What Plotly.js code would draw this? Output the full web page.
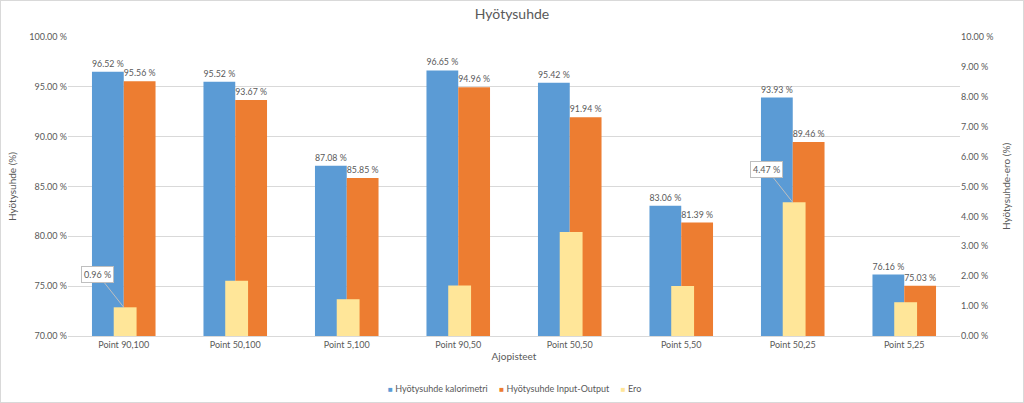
<!DOCTYPE html>
<html>
<head>
<meta charset="utf-8">
<script src="https://cdn.plot.ly/plotly-3.0.1.min.js"></script>
<style>
html,body{margin:0;padding:0;background:#fff;}
#wrap{width:1024px;height:403px;box-sizing:border-box;border:1px solid #d9d9d9;}
#chart{width:1022px;height:401px;}
</style>
</head>
<body>
<div id="wrap"><div id="chart"></div></div>
<script>
const categories = ["Point 90,100","Point 50,100","Point 5,100","Point 90,50","Point 50,50","Point 5,50","Point 50,25","Point 5,25"];
const kalorimetri = [96.52, 95.52, 87.08, 96.65, 95.42, 83.06, 93.93, 76.16];
const inputOutput = [95.56, 93.67, 85.85, 94.96, 91.94, 81.39, 89.46, 75.03];
const ero = [0.96, 1.85, 1.23, 1.69, 3.48, 1.67, 4.47, 1.13];
const eroLabelIdx = [0, 6];
const seriesNames = ['Hyötysuhde kalorimetri', 'Hyötysuhde Input-Output', 'Ero'];
const seriesColors = ['#5B9BD5', '#ED7D31', '#FFE699'];

const FONT = "Lato, 'Open Sans', 'Liberation Sans', sans-serif";
const GREY = "#595959";

const traces = [
  {type:'bar', name:seriesNames[0], x:categories, y:kalorimetri, showlegend:false,
   marker:{color:seriesColors[0]}, width:0.285, offset:-0.285,
   texttemplate:'%{y:.2f} %', textposition:'outside', cliponaxis:false,
   textfont:{size:9, color:GREY, family:FONT}, hoverinfo:'y'},
  {type:'bar', name:seriesNames[1], x:categories, y:inputOutput, showlegend:false,
   marker:{color:seriesColors[1]}, width:0.285, offset:0,
   texttemplate:'%{y:.2f} %', textposition:'outside', cliponaxis:false,
   textfont:{size:9, color:GREY, family:FONT}, hoverinfo:'y'},
  {type:'bar', name:seriesNames[2], x:categories, y:ero, yaxis:'y2', showlegend:false,
   marker:{color:seriesColors[2]}, width:0.205, offset:-0.09, hoverinfo:'y'}
];

const annotations = eroLabelIdx.map(i => ({
  x: categories[i], y: ero[i], xref:'x', yref:'y2',
  text: ero[i].toFixed(2) + ' %', showarrow:true, arrowhead:0, arrowwidth:1,
  arrowcolor:'#bfbfbf', ax:-26, ay:-33, bgcolor:'#ffffff', bordercolor:'#bfbfbf',
  borderwidth:1, borderpad:2, font:{size:9, color:GREY, family:FONT}
}));

// compact legend (small square swatch + name), as in the original
const GAP = '\u00a0\u00a0\u00a0\u00a0\u00a0';
annotations.push({
  xref:'paper', yref:'paper', x:0.5, y:-0.174, xanchor:'center', yanchor:'middle', showarrow:false,
  text: seriesNames.map((n, i) => '<span style="color:' + seriesColors[i] + ';font-size:8px">■</span> ' + n).join(GAP),
  font:{size:9, color:GREY, family:FONT}
});

const layout = {
  width:1022, height:401,
  margin:{l:67, r:63, t:36, b:66},
  paper_bgcolor:'#ffffff', plot_bgcolor:'#ffffff',
  font:{family:FONT, color:GREY, size:9},
  title:{text:'Hyötysuhde', font:{size:14, color:GREY, family:FONT}, x:0.5, xanchor:'center', y:0.98, yanchor:'top'},
  barmode:'overlay',
  showlegend:false,
  xaxis:{type:'category', title:{text:'Ajopisteet', font:{size:10, color:GREY}, standoff:4},
         showline:true, linecolor:'#d9d9d9', ticks:'', tickfont:{size:9, color:GREY}, showgrid:false},
  yaxis:{range:[70,100], dtick:5, tickformat:'.2f', ticksuffix:' %', showgrid:true, gridcolor:'#d9d9d9',
         zeroline:false, tickfont:{size:9, color:GREY},
         title:{text:'Hyötysuhde (%)', font:{size:10, color:GREY}, standoff:10}},
  yaxis2:{range:[0,10], dtick:1, tickformat:'.2f', ticksuffix:' %', overlaying:'y', side:'right',
          showgrid:false, zeroline:false, tickfont:{size:9, color:GREY},
          title:{text:'Hyötysuhde-ero (%)', font:{size:10, color:GREY}, standoff:10}},
  annotations: annotations
};

Plotly.newPlot('chart', traces, layout, {displayModeBar:false, staticPlot:true});
</script>
</body>
</html>
